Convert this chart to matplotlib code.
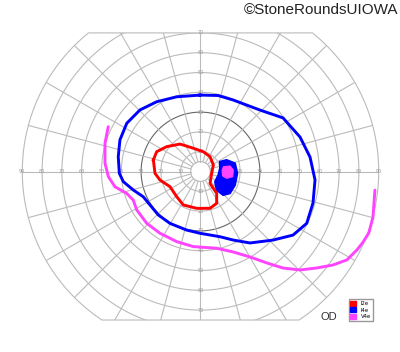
import numpy as np
import matplotlib.pyplot as plt
from matplotlib.patches import Patch, Polygon

# isopters as (meridian angle in degrees, eccentricity in degrees)
i2e_angle = [166.3, 155.7, 143.7, 126.7, 107.2, 82, 57.3, 26.9, 350.9, 308.8, 306.6, 297, 284.5,
             264.1, 242.8, 226.6, 206.5, 191.9, 182.3]
i2e_ecc = [24.5, 24.3, 21.2, 17.3, 12.3, 10.1, 8.9, 7.3, 5.7, 7.7, 13.7, 18.0, 19.2,
           18.7, 19.0, 17.5, 17.2, 20.9, 23.0]

i4e_angle = [90.4, 77, 65.6, 45.9, 33, 19.1, 7.5, 355.8, 344.4, 334, 325.5, 316.6, 304.7, 295.6,
             286.7, 269.5, 256.7, 239.5, 225.9, 213.6, 203.8, 195.4, 187.5, 181.3, 169.8, 158.6,
             146.8, 134.5, 122.1, 107.7]
i4e_ecc = [38.6, 39.4, 39.7, 43.2, 49.7, 53.2, 55.8, 58.0, 59.0, 59.7, 56.7, 50.4, 43.9, 38.4,
           34.4, 31.2, 30.4, 30.4, 30.6, 30.6, 31.6, 35.2, 39.3, 41.0, 42.2, 43.7,
           44.5, 43.6, 41.6, 39.6]

# small I4e island temporal to fixation
i4e_spot_angle = [26.7, 23.7, 13.4, 357.2, 338.6, 323.5, 314, 311.2, 324.9, 348.9, 9.3]
i4e_spot_ecc = [11.0, 14.4, 17.9, 18.6, 18.7, 18.5, 16.5, 12.4, 9.0, 9.2, 10.0]

v4e_spot_angle = [11.9, 10.6, 2.6, 350.8, 345.5, 348.5, 2.1]
v4e_spot_ecc = [11.8, 15.2, 16.6, 16.5, 13.7, 11.4, 10.9]

v4e_angle = [154.1, 163.5, 175.1, 183.2, 190.1, 196.5, 203, 211.1, 223.9, 236.8, 251.3, 264.5, 281.9,
             292, 300.1, 306, 310.5, 315.3, 320.4, 324.8, 328.9, 333.4, 336.5, 340, 345.2, 353.9]
v4e_ecc = [51.8, 50.3, 48.4, 46.6, 43.9, 38.9, 36.9, 37.6, 37.7, 37.3, 37.4, 38.1, 39.6,
           43.8, 49.9, 57.1, 64.1, 70.7, 76.4, 81.9, 86.4, 88.4, 89.5, 90.5, 90.1, 88.6]

legend_labels = ['I2e', 'I4e', 'V4e']
colors = ['#ff0000', '#0000ff', '#ff44ff']

rings = [10, 20, 30, 40, 50, 60, 70, 80]
top_labels = [10, 20, 30, 40, 50, 60, 70]
bottom_labels = [10, 20, 30, 40, 50, 60, 70]
side_labels = [10, 20, 30, 40, 50, 60, 70, 80, 90]


def to_xy(angle, ecc, close=False):
    a = np.radians(angle)
    x = np.asarray(ecc) * np.cos(a)
    y = np.asarray(ecc) * np.sin(a)
    if close:
        x = np.append(x, x[0])
        y = np.append(y, y[0])
    return x, y


fig = plt.figure(figsize=(4, 3.52), dpi=100)
ax = fig.add_axes([0, 0, 1, 1])
ax.set_xlim(-101.26, 100.76)
ax.set_ylim(-91.16, 86.62)
ax.axis('off')

grid_c = '#bbbbbb'

# outline of the chart: 90 deg circle cut at 70 above and 75 below
top = np.degrees(np.arcsin(70 / 90))
bot = np.degrees(np.arcsin(75 / 90))
t1 = np.radians(np.linspace(-bot, top, 200))
t2 = np.radians(np.linspace(180 - top, 180 + bot, 200))
edge = np.vstack([np.column_stack([90 * np.cos(t1), 90 * np.sin(t1)]),
                  np.column_stack([90 * np.cos(t2), 90 * np.sin(t2)])])
outline = Polygon(edge, closed=True, facecolor='none', edgecolor=grid_c, lw=0.8)
ax.add_patch(outline)

t = np.linspace(0, 2 * np.pi, 400)
for r in rings:
    c = '#666666' if r == 30 else grid_c
    ln, = ax.plot(r * np.cos(t), r * np.sin(t), color=c, lw=0.8)
    ln.set_clip_path(outline)
ax.plot(5 * np.cos(t), 5 * np.sin(t), color=grid_c, lw=0.8)

for a in range(0, 360, 15):
    ar = np.radians(a)
    ln, = ax.plot([5 * np.cos(ar), 90 * np.cos(ar)], [5 * np.sin(ar), 90 * np.sin(ar)],
                  color=grid_c, lw=0.8)
    ln.set_clip_path(outline)

lab = dict(fontsize=3.5, color='#999999', ha='center', va='center')
for r in side_labels:
    ax.text(-r, 0, str(r), **lab)
    ax.text(r, 0, str(r), **lab)
for r in top_labels:
    ax.text(0, r, str(r), **lab)
for r in bottom_labels:
    ax.text(0, -r, str(r), **lab)

# isopters
x, y = to_xy(v4e_angle, v4e_ecc)
ax.plot(x, y, color=colors[2], lw=2.1, solid_capstyle='round', solid_joinstyle='round', zorder=5)
x, y = to_xy(i4e_angle, i4e_ecc, close=True)
ax.plot(x, y, color=colors[1], lw=2.1, solid_joinstyle='round', zorder=5)
x, y = to_xy(i4e_spot_angle, i4e_spot_ecc)
ax.fill(x, y, facecolor=colors[1], edgecolor=colors[1], lw=1.5, zorder=5)
x, y = to_xy(v4e_spot_angle, v4e_spot_ecc)
ax.fill(x, y, facecolor=colors[2], edgecolor=colors[2], lw=0.8, zorder=6)
x, y = to_xy(i2e_angle, i2e_ecc, close=True)
ax.plot(x, y, color=colors[0], lw=2.1, solid_joinstyle='round', zorder=5)

fig.text(398 / 400, 1 - 10 / 352, '\u00a9StoneRoundsUIOWA', ha='right', va='center',
         fontsize=11, family='Liberation Sans', color='#222222')
fig.text(329 / 400, 1 - 317 / 352, 'OD', ha='center', va='center', fontsize=8,
         family='Liberation Sans', color='#333333')

handles = [Patch(facecolor=c, edgecolor=c) for c in colors]
fig.legend(handles, legend_labels, loc='lower right', bbox_to_anchor=(373 / 400, 1 - 321 / 352),
           fontsize=3.8, frameon=True, fancybox=False, edgecolor='#999999', framealpha=1,
           handlelength=1.1, handleheight=1.1, handletextpad=0.9, borderpad=0.35,
           labelspacing=0.25, borderaxespad=0)

fig.savefig('out.png', dpi=100)
